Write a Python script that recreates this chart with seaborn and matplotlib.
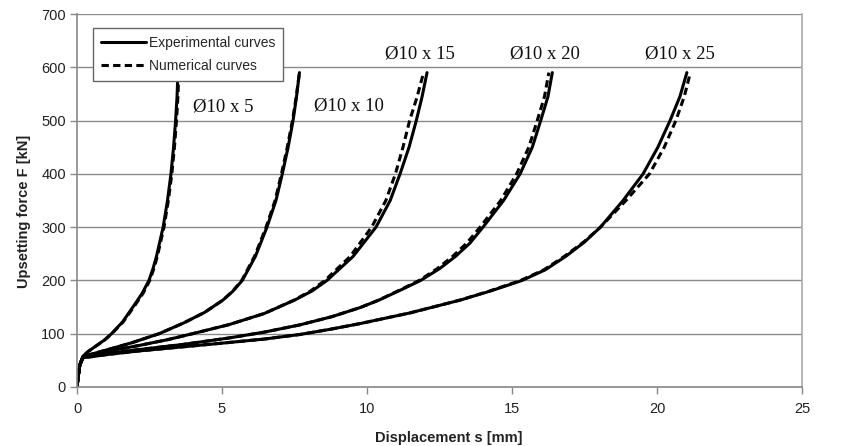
import matplotlib
matplotlib.use("Agg")
import matplotlib.pyplot as plt
import seaborn as sns
from matplotlib.lines import Line2D

# ---------------- data ----------------
F5 = [0, 20, 42, 58, 66, 76, 88, 100, 122, 155, 176, 200, 222, 245, 300, 350, 400, 450, 500, 545, 590]
s5_exp = [0, 0.04, 0.10, 0.21, 0.37, 0.63, 0.94, 1.19, 1.57, 1.99, 2.25, 2.48, 2.62, 2.74, 2.97, 3.12, 3.24, 3.33, 3.40, 3.45, 3.48]
s5_num = [0, 0.04, 0.10, 0.21, 0.37, 0.63, 0.95, 1.20, 1.59, 2.02, 2.28, 2.51, 2.65, 2.77, 3.00, 3.15, 3.27, 3.36, 3.43, 3.48, 3.51]

F10 = [0, 20, 42, 57, 62, 70, 83, 100, 120, 140, 163, 180, 200, 245, 300, 350, 400, 450, 500, 545, 590]
s10_exp = [0, 0.04, 0.10, 0.21, 0.52, 1.05, 1.89, 2.83, 3.67, 4.40, 5.03, 5.38, 5.70, 6.15, 6.55, 6.86, 7.08, 7.28, 7.45, 7.57, 7.67]
s10_num = [0, 0.04, 0.10, 0.21, 0.52, 1.05, 1.89, 2.83, 3.67, 4.40, 5.03, 5.37, 5.68, 6.12, 6.52, 6.83, 7.05, 7.25, 7.43, 7.56, 7.67]

F15 = [0, 20, 42, 57, 60, 67, 77.5, 89, 100, 117, 138, 163, 180, 200, 245, 300, 350, 400, 450, 500, 545, 590]
s15_exp = [0, 0.04, 0.10, 0.21, 0.52, 1.05, 2.10, 3.14, 3.98, 5.24, 6.46, 7.50, 8.10, 8.62, 9.52, 10.31, 10.80, 11.14, 11.45, 11.70, 11.90, 12.07]
s15_num = [0, 0.04, 0.10, 0.21, 0.52, 1.05, 2.10, 3.14, 3.98, 5.24, 6.46, 7.48, 8.05, 8.55, 9.42, 10.16, 10.65, 10.98, 11.24, 11.47, 11.73, 11.95]

F20 = [0, 20, 42, 56, 58, 63, 70, 80, 92, 103, 116.5, 132, 149, 163, 183, 200, 222, 245, 270, 300, 350, 400, 450, 500, 545, 590]
s20_exp = [0, 0.04, 0.10, 0.21, 0.52, 1.05, 2.10, 3.67, 5.24, 6.46, 7.68, 8.79, 9.76, 10.41, 11.20, 11.85, 12.50, 13.05, 13.55, 14.00, 14.71, 15.28, 15.70, 15.99, 16.24, 16.39]
s20_num = [0, 0.04, 0.10, 0.21, 0.52, 1.05, 2.10, 3.67, 5.24, 6.46, 7.68, 8.79, 9.76, 10.40, 11.17, 11.80, 12.42, 12.95, 13.44, 13.90, 14.61, 15.16, 15.58, 15.87, 16.12, 16.27]

F25 = [0, 20, 42, 55, 57, 61, 67.5, 75.5, 83.5, 90, 98.5, 108, 119, 139, 163, 180, 200, 220, 245, 272, 300, 350, 400, 450, 500, 545, 590]
s25_exp = [0, 0.04, 0.10, 0.21, 0.52, 1.05, 2.10, 3.67, 5.24, 6.46, 7.68, 8.70, 9.76, 11.48, 13.21, 14.25, 15.35, 16.15, 16.85, 17.50, 18.05, 18.83, 19.52, 20.03, 20.45, 20.79, 21.03]
s25_num = [0, 0.04, 0.10, 0.21, 0.52, 1.05, 2.10, 3.67, 5.24, 6.46, 7.68, 8.70, 9.76, 11.48, 13.20, 14.22, 15.30, 16.10, 16.80, 17.47, 18.05, 18.93, 19.74, 20.25, 20.65, 20.94, 21.15]

specimens = ["Ø10 x 5", "Ø10 x 10", "Ø10 x 15", "Ø10 x 20", "Ø10 x 25"]
label_s = [5.03, 9.38, 11.83, 16.14, 20.79]
label_F = [525, 527, 625, 625, 625]

x_ticks = [0, 5, 10, 15, 20, 25]
y_ticks = [0, 100, 200, 300, 400, 500, 600, 700]
legend_labels = ["Experimental curves", "Numerical curves"]

series = [
    ("Ø10 x 5", s5_exp, s5_num, F5),
    ("Ø10 x 10", s10_exp, s10_num, F10),
    ("Ø10 x 15", s15_exp, s15_num, F15),
    ("Ø10 x 20", s20_exp, s20_num, F20),
    ("Ø10 x 25", s25_exp, s25_num, F25),
]

# ---------------- plotting ----------------
sns.set_theme(style="white")
plt.rcParams["font.family"] = ["Liberation Sans", "DejaVu Sans"]

W, H = 857, 446
fig = plt.figure(figsize=(W / 100, H / 100), dpi=100)
ax = fig.add_axes([77 / W, 1 - 387 / H, (802 - 77) / W, (387 - 14) / H])

LW = 2.2
DASH = (0, (2.4, 1.4))
for name, s_exp, s_num, F in series:
    sns.lineplot(x=s_exp, y=F, ax=ax, color="black", lw=LW, sort=False,
                 estimator=None, legend=False, solid_joinstyle="round")
    sns.lineplot(x=s_num, y=F, ax=ax, color="black", lw=LW, sort=False,
                 estimator=None, legend=False, linestyle=DASH)

for txt, xs, ys in zip(specimens, label_s, label_F):
    ax.text(xs, ys, txt, ha="center", va="center", fontsize=13.5,
            family=["Liberation Serif", "DejaVu Serif"], color="#111111")

ax.set_xlim(0, 25)
ax.set_ylim(0, 700)
ax.set_xticks(x_ticks)
ax.set_yticks(y_ticks)
ax.set_xticklabels([str(v) for v in x_ticks])
ax.set_yticklabels([str(v) for v in y_ticks])
ax.tick_params(axis="both", labelsize=10.5, colors="#888888", labelcolor="#222222",
               length=5, width=1, direction="out", bottom=True, left=True)
ax.tick_params(axis="x", pad=6)
ax.tick_params(axis="y", pad=3)

ax.yaxis.grid(True, color="#8a8a8a", lw=1)
ax.xaxis.grid(False)
ax.set_axisbelow(True)
for side in ["left", "bottom"]:
    ax.spines[side].set_color("#888888")
    ax.spines[side].set_linewidth(1.2)
ax.spines["right"].set_color("#aaaaaa")
ax.spines["right"].set_linewidth(1.2)
ax.spines["top"].set_visible(False)

ax.set_xlabel("Displacement s [mm]", fontsize=10.5, fontweight="bold", color="#222222")
ax.set_ylabel("Upsetting force F [kN]", fontsize=10.5, fontweight="bold", color="#222222")
ax.xaxis.set_label_coords(0.513, -0.118)
ax.yaxis.set_label_coords(-0.063, 0.472)

handles = [Line2D([0], [0], color="black", lw=LW),
           Line2D([0], [0], color="black", lw=LW, linestyle=DASH)]
leg = ax.legend(handles, legend_labels, loc="upper left",
                bbox_to_anchor=(93 / W, 1 - 28 / H), bbox_transform=fig.transFigure,
                fontsize=10, frameon=True, fancybox=False, handlelength=3.2,
                handletextpad=0.2, borderpad=0.6, labelspacing=0.6, borderaxespad=0)
leg.get_frame().set_edgecolor("#666666")
leg.get_frame().set_linewidth(1.0)
leg.get_frame().set_facecolor("white")
leg.get_frame().set_alpha(1)

fig.savefig("out.png", dpi=100)
